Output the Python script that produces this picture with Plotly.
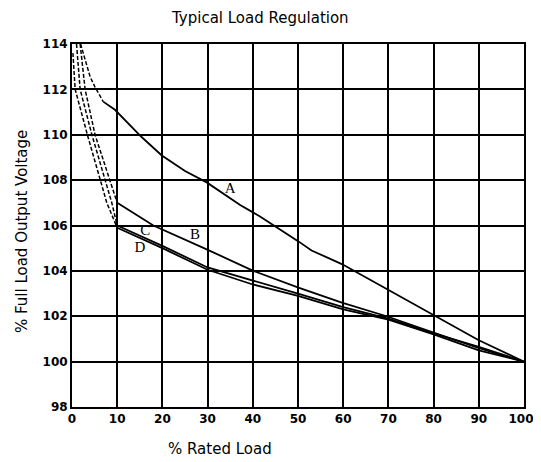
import plotly.graph_objects as go

# ---- data ----
x_ticks = [0, 10, 20, 30, 40, 50, 60, 70, 80, 90, 100]
x_tick_text = ["0", "10", "20", "30", "40", "50", "60", "70", "80", "90", "100\u2002"]
y_ticks = [98, 100, 102, 104, 106, 108, 110, 112, 114]

a_dash_load = [1.9, 2.9, 4.0, 5.1, 6.9]
a_dash_v = [114.0, 113.3, 112.56, 112.1, 111.46]
a_load = [6.9, 9.5, 15.4, 19.8, 25, 29.8, 37.2, 41.6, 50.1, 53, 59.7, 69.6, 79.8, 89.9, 100]
a_v = [111.46, 111.1, 109.9, 109.1, 108.4, 107.9, 106.9, 106.4, 105.3, 104.9, 104.3, 103.2, 102.1, 100.95, 100.0]

b_dash_load = [1.8, 2.9, 5.1, 8.4, 10.0]
b_dash_v = [114.0, 112.0, 110.0, 108.0, 107.0]
b_load = [10, 18, 29.8, 37.2, 40.1, 50.1, 59.7, 69.6, 79.8, 89.9, 100]
b_v = [107.0, 106.0, 104.95, 104.25, 104.0, 103.26, 102.6, 102.0, 101.28, 100.6, 100.0]

c_dash_load = [1.0, 1.8, 4.4, 7.3, 8.8, 10.0]
c_dash_v = [114.0, 112.0, 110.0, 108.0, 107.0, 106.0]
c_load = [10, 20, 30, 37, 40, 50, 60, 70, 80, 90, 100]
c_v = [106.0, 105.1, 104.15, 103.75, 103.6, 103.0, 102.4, 101.9, 101.25, 100.65, 100.0]

d_dash_load = [0.2, 0.7, 3.4, 6.2, 7.7, 10.0]
d_dash_v = [113.6, 112.0, 110.0, 108.0, 107.0, 105.9]
d_load = [10, 20, 30, 33, 40, 50, 60, 70, 80, 90, 100]
d_v = [105.9, 105.0, 104.05, 103.85, 103.4, 102.9, 102.3, 101.85, 101.2, 100.5, 100.0]

curve_labels = ["A", "B", "C", "D"]
label_load = [35, 27.2, 16.2, 15.0]
label_v = [107.6, 105.56, 105.75, 105.0]

FONT = "DejaVu Sans"

fig = go.Figure()
for lx, lv, dx, dv in [
    (a_load, a_v, a_dash_load, a_dash_v),
    (b_load, b_v, b_dash_load, b_dash_v),
    (c_load, c_v, c_dash_load, c_dash_v),
    (d_load, d_v, d_dash_load, d_dash_v),
]:
    fig.add_trace(go.Scatter(x=dx, y=dv, mode="lines",
                             line=dict(color="black", width=1.5, dash="4px,2px"),
                             showlegend=False, hoverinfo="skip"))
    fig.add_trace(go.Scatter(x=lx, y=lv, mode="lines",
                             line=dict(color="black", width=1.8),
                             showlegend=False))

fig.add_trace(go.Scatter(x=label_load, y=label_v, mode="text", text=curve_labels,
                         textfont=dict(family="Liberation Serif", size=15, color="black"),
                         showlegend=False, hoverinfo="skip"))

fig.update_layout(
    width=533, height=454,
    margin=dict(l=64, r=17, t=36, b=55),
    paper_bgcolor="white", plot_bgcolor="white",
    font=dict(family=FONT, color="black", size=13),
    annotations=[
        dict(text="Typical Load Regulation", xref="paper", yref="paper",
             x=0.416, y=1.0, xanchor="center", yanchor="bottom", yshift=15,
             showarrow=False, font=dict(family=FONT, size=15)),
        dict(text="% Rated Load", xref="paper", yref="paper",
             x=0.327, y=0, xanchor="center", yanchor="top", yshift=-31,
             showarrow=False, font=dict(family=FONT, size=15)),
        dict(text="% Full Load Output Voltage", xref="paper", yref="paper",
             x=0, y=0.482, xanchor="right", yanchor="middle", xshift=-39,
             textangle=-90, showarrow=False, font=dict(family=FONT, size=15)),
    ],
)

tick_font = dict(family=FONT, size=12, weight="bold")
fig.update_xaxes(range=[0, 100], tickvals=x_ticks, ticktext=x_tick_text,
                 showgrid=True, gridcolor="black", gridwidth=2, automargin=False,
                 ticklabeloverflow="allow",
                 showline=True, linecolor="black", linewidth=2, mirror=True,
                 zeroline=False, ticks="", tickfont=tick_font)
fig.update_yaxes(range=[98, 114], tickvals=y_ticks, ticktext=[str(t) for t in y_ticks],
                 showgrid=True, gridcolor="black", gridwidth=2, automargin=False,
                 showline=True, linecolor="black", linewidth=2, mirror=True,
                 zeroline=False, ticks="", tickfont=tick_font)

fig.write_html("out.html")
